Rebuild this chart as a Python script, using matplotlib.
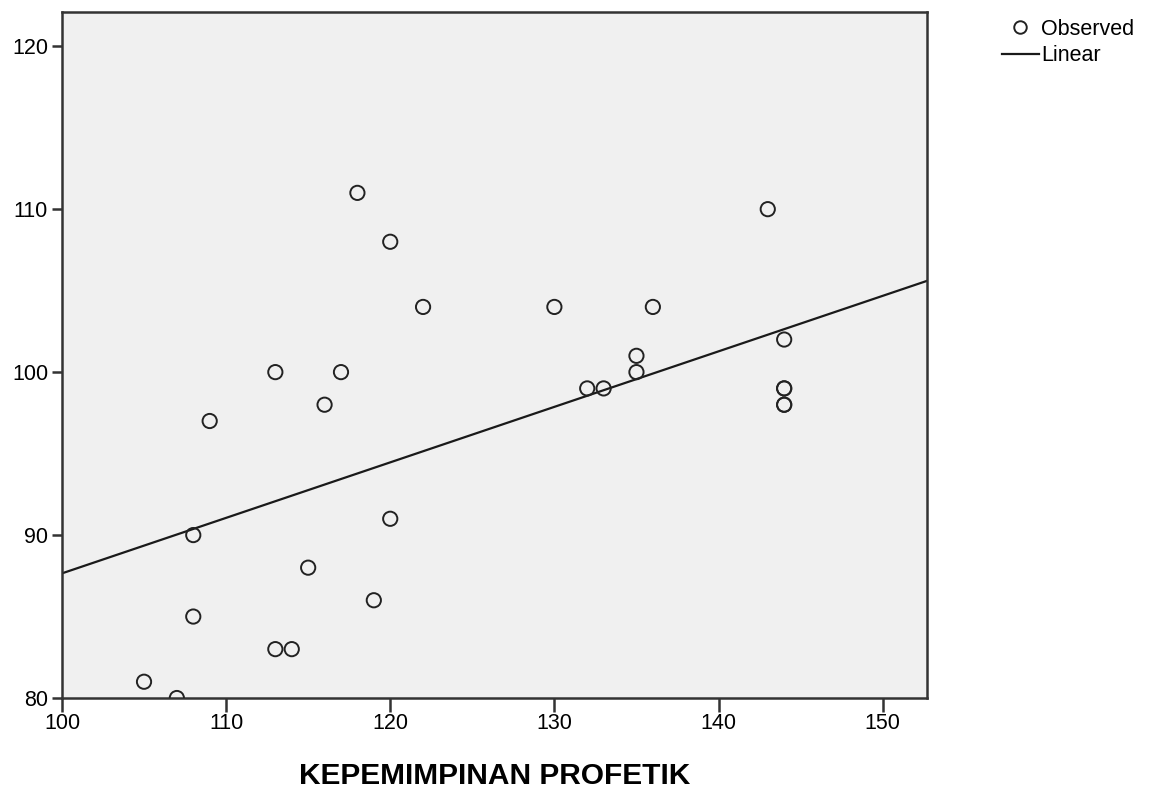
import matplotlib.pyplot as plt
from matplotlib.lines import Line2D

plt.rcParams["font.family"] = ["Liberation Sans", "DejaVu Sans"]

# observed points (x = KEPEMIMPINAN PROFETIK, y = dependent)
obs_x = [105, 107, 108, 108, 109, 113, 113, 114, 115, 116, 117, 118, 119,
         120, 120, 122, 130, 132, 133, 135, 135, 136, 143, 144, 144, 144, 144, 144]
obs_y = [81, 80, 90, 85, 97, 100, 83, 83, 88, 98, 100, 111, 86,
         108, 91, 104, 104, 99, 99, 101, 100, 104, 110, 102, 99, 99, 98, 98]

# linear fit endpoints
line_x = [100, 152.7]
line_y = [87.65, 105.6]

xticks = [100, 110, 120, 130, 140, 150]
yticks = [80, 90, 100, 110, 120]

fig = plt.figure(figsize=(11.58, 7.89), dpi=100)
ax = fig.add_axes([0.0535, 0.1153, 0.7470, 0.8695])
ax.set_facecolor("#f0f0f0")

ax.plot(line_x, line_y, color="#1a1a1a", linewidth=1.6, zorder=2)
ax.scatter(obs_x, obs_y, s=105, facecolors="none", edgecolors="#222222",
           linewidths=1.4, zorder=3)

ax.set_xlim(100, 152.7)
ax.set_ylim(80, 122.1)
ax.set_xticks(xticks)
ax.set_yticks(yticks)
ax.tick_params(axis="x", direction="out", length=10, width=1.8, color="#333333",
               labelsize=15.5, pad=1)
ax.tick_params(axis="y", direction="out", length=7, width=1.8, color="#333333",
               labelsize=15.5, pad=3)
for side in ax.spines.values():
    side.set_color("#333333")
    side.set_linewidth(1.8)

ax.set_xlabel("KEPEMIMPINAN PROFETIK", fontsize=21.5, fontweight="bold", labelpad=20)

handles = [
    Line2D([], [], marker="o", linestyle="none", markersize=9,
           markerfacecolor="none", markeredgecolor="#222222", markeredgewidth=1.4),
    Line2D([], [], color="#1a1a1a", linewidth=1.6),
]
fig.legend(handles, ["Observed", "Linear"], loc="upper left",
           bbox_to_anchor=(0.8575, 0.987), frameon=False, fontsize=15.5,
           handlelength=1.75, handletextpad=0.1, labelspacing=0.25,
           borderaxespad=0.0)

fig.savefig("out.png", dpi=100)
